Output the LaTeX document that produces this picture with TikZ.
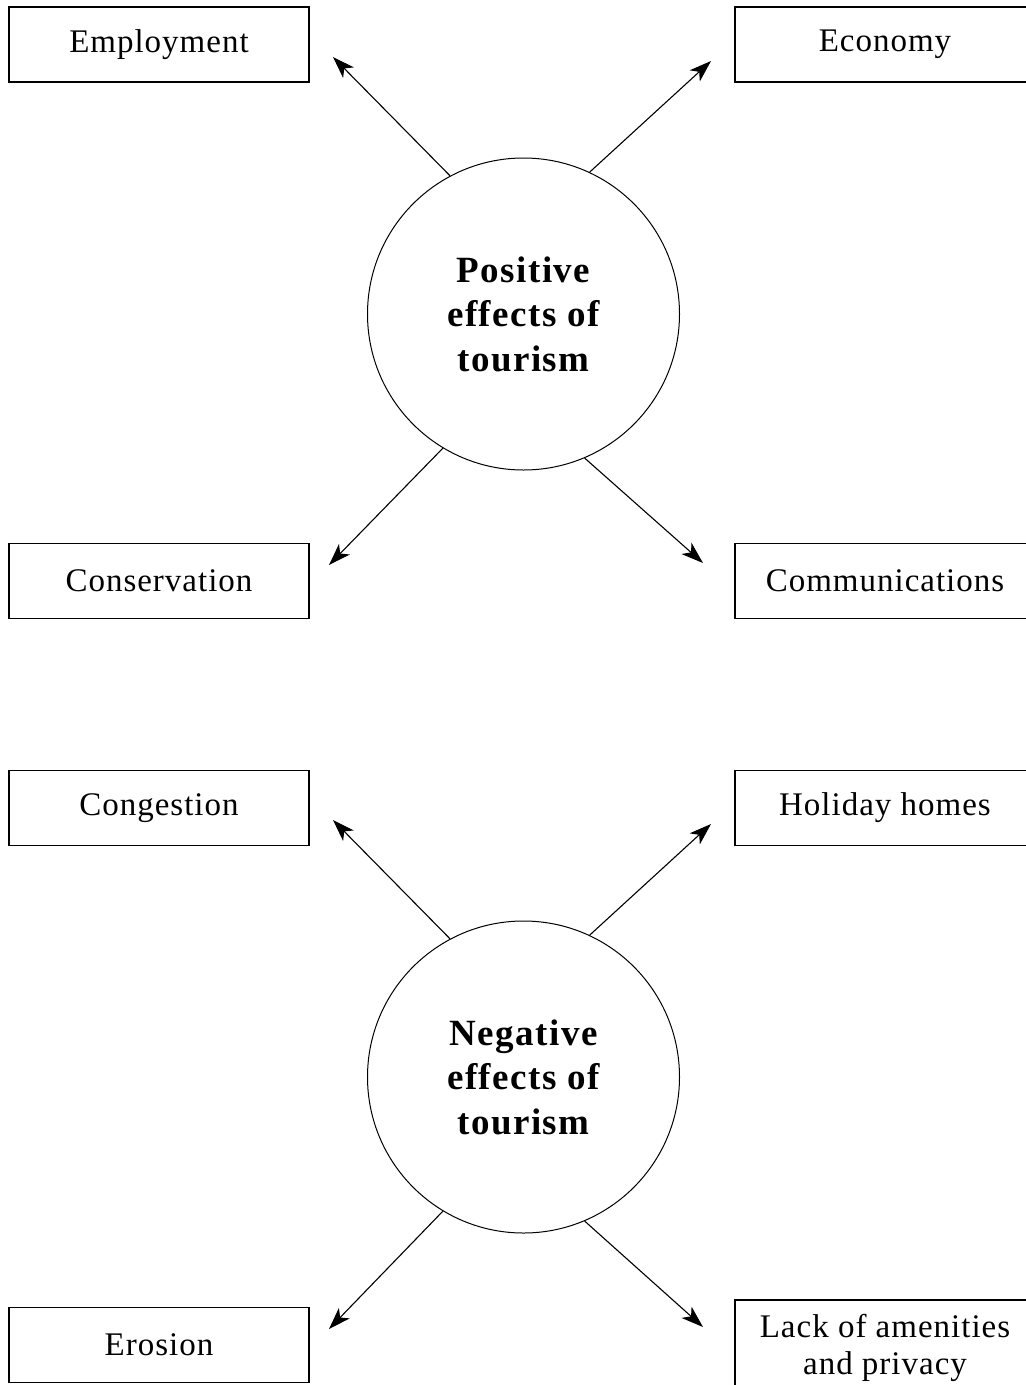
\documentclass[tikz,border=0pt]{standalone}
\usepackage{fontspec}
\setmainfont{Liberation Serif}
\newfontfamily\boxfont[LetterSpace=3]{Liberation Serif}
\newfontfamily\circfont[LetterSpace=4]{Liberation Serif}
\usetikzlibrary{arrows.meta}
\tikzset{
  effbox/.style={draw, line width=1.2pt, minimum width=300pt, minimum height=75pt, inner sep=0pt, align=center,
    font=\boxfont\fontsize{33}{37}\selectfont},
  hub/.style={draw, circle, line width=1pt, minimum size=312pt, inner sep=0pt, align=center,
    font=\circfont\bfseries\fontsize{37}{44.5}\selectfont},
  arr/.style={line width=1.1pt, -{Stealth[length=22pt,width=15pt,inset=6pt]}}
}
\begin{document}
\begin{tikzpicture}[x=1pt,y=-1pt]
\useasboundingbox (0,0) rectangle (1026,1385);
% positive
\node[hub] (pos) at (523.5,314) {Positive\\effects of\\tourism};
\node[effbox] (emp) at (159,44.5) {Employment};
\node[effbox] (eco) at (885,44.5) {Economy};
\node[effbox] (con) at (159,581) {Conservation};
\node[effbox] (comm) at (885,581) {Communications};
\coordinate (p1) at (333,57);
\coordinate (p2) at (711,61);
\coordinate (p3) at (329,565);
\coordinate (p4) at (703,563);
\draw[arr] (pos.118.4) -- (p1);
\draw[arr] (pos.65.4) -- (p2);
\draw[arr] (pos.239) -- (p3);
\draw[arr] (pos.293.8) -- (p4);
% negative
\node[hub] (neg) at (523.5,1077) {Negative\\effects of\\tourism};
\node[effbox] (cong) at (159,808) {Congestion};
\node[effbox] (hol) at (885,808) {Holiday homes};
\node[effbox] (ero) at (159,1345) {Erosion};
\node[effbox, minimum height=96pt] (lack) at (885,1348) {Lack of amenities\\and privacy};
\coordinate (n1) at (333,820);
\coordinate (n2) at (711,824);
\coordinate (n3) at (329,1329);
\coordinate (n4) at (703,1327);
\draw[arr] (neg.118.4) -- (n1);
\draw[arr] (neg.65.4) -- (n2);
\draw[arr] (neg.239) -- (n3);
\draw[arr] (neg.293.8) -- (n4);
\end{tikzpicture}
\end{document}
